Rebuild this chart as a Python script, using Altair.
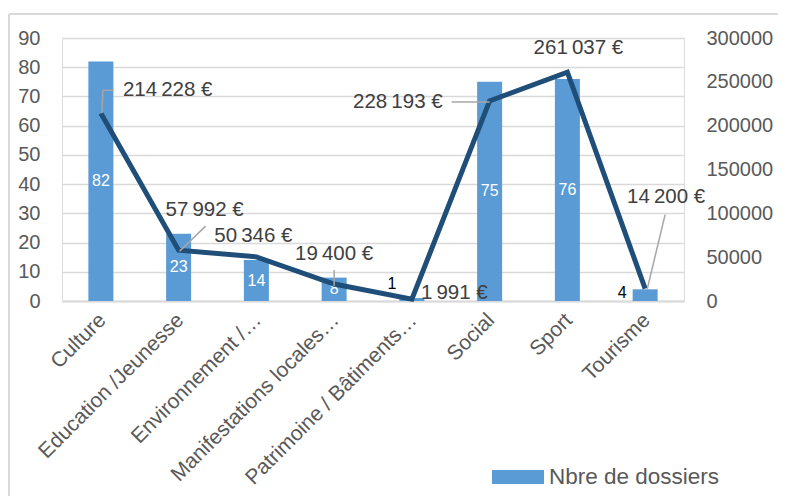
import altair as alt
import pandas as pd

categories = ["Culture", "Education /Jeunesse", "Environnement /…", "Manifestations locales…",
              "Patrimoine / Bâtiments…", "Social", "Sport", "Tourisme"]
dossiers = [82, 23, 14, 8, 1, 75, 76, 4]
montants = [214228, 57992, 50346, 19400, 1991, 228193, 261037, 14200]
series_name = "Nbre de dossiers"

df = pd.DataFrame({"cat": categories, "n": dossiers, "m": montants})
df["label_m"] = [f"{v:,}".replace(",", "\u202f") + "\u00a0€" for v in montants]
df["series"] = series_name

GRAY = "#595959"
DARK = "#404040"
BAR = "#5B9BD5"
LINE = "#1F4E79"
LEAD = "#a6a6a6"
GRID = "#d9d9d9"

x_axis = alt.Axis(title=None, labelAngle=-45, labelFontSize=21, labelColor=GRAY,
                  domain=True, domainColor=GRID, domainWidth=2, ticks=False,
                  labelPadding=8, labelOffset=-6, labelLimit=400, grid=False)
x = alt.X("cat:N", sort=categories, scale=alt.Scale(paddingInner=0, paddingOuter=0), axis=x_axis)
yl_scale = alt.Scale(domain=[0, 90])
yr_scale = alt.Scale(domain=[0, 300000])
yl_axis = alt.Axis(title=None, values=list(range(0, 91, 10)), grid=True,
                   gridColor=GRID, gridWidth=1.5, domain=False, ticks=False,
                   labelFontSize=20, labelColor=GRAY, labelPadding=22, orient="left")
yr_axis = alt.Axis(title=None, orient="right", values=list(range(0, 300001, 50000)),
                   format="d", grid=False, domain=False, ticks=False,
                   labelFontSize=20, labelColor=GRAY, labelPadding=22)

base = alt.Chart(df)

bars = base.mark_bar(width=25).encode(
    x=x,
    y=alt.Y("n:Q", scale=yl_scale, axis=yl_axis),
    color=alt.Color("series:N", scale=alt.Scale(range=[BAR]),
                    legend=alt.Legend(title=None, orient="none", legendX=430, legendY=413,
                                      symbolType="M-1,-0.27H1V0.27H-1Z", symbolSize=2704,
                                      symbolStrokeWidth=0, labelFontSize=22.5, labelColor=GRAY,
                                      labelOffset=5, padding=0, labelLimit=400)),
)

bar_in = base.transform_filter("datum.n >= 8").transform_calculate(mid="datum.n / 2").mark_text(
    color="white", fontSize=16).encode(
    x=x, y=alt.Y("mid:Q", scale=yl_scale, axis=yl_axis), text="n:Q")

def small_label(cat, dx, dy):
    return base.transform_filter(alt.datum.cat == cat).transform_calculate(mid="datum.n / 2").mark_text(
        color="black", fontSize=16, dx=dx, dy=dy).encode(
        x=x, y=alt.Y("mid:Q", scale=yl_scale, axis=yl_axis), text="n:Q")

left = alt.layer(bars, bar_in, small_label("Patrimoine / Bâtiments…", -20, -16),
                 small_label("Tourisme", -23, -2))

line = base.mark_line(color=LINE, strokeWidth=5).encode(
    x=x, y=alt.Y("m:Q", scale=yr_scale, axis=yr_axis))

# label placement (dx, dy, align) per category
label_pos = {
    "Culture": (22, -23, "left"),
    "Education /Jeunesse": (26, -40, "center"),
    "Environnement /…": (-3, -21, "center"),
    "Manifestations locales…": (0, -30, "center"),
    "Patrimoine / Bâtiments…": (9, -6, "left"),
    "Social": (-47, 1, "right"),
    "Sport": (11, -24, "center"),
    "Tourisme": (21, -92, "center"),
}
# leader segments: (xOffset, yOffset, x2Offset, y2Offset)
leaders = {
    "Culture": [(1, 0, 2, -23), (2, -23, 13, -23)],
    "Education /Jeunesse": [(1, 1, 27, -24)],
    "Manifestations locales…": [(0, 2, 0, -14)],
    "Social": [(0, 1, -38, 1)],
    "Tourisme": [(2, 1, 20, -74)],
}

line_layers = [line]
for cat, segs in leaders.items():
    for (xo, yo, x2o, y2o) in segs:
        line_layers.append(
            base.transform_filter(alt.datum.cat == cat).mark_rule(
                color=LEAD, strokeWidth=1.5, xOffset=xo, yOffset=yo, x2Offset=x2o, y2Offset=y2o).encode(
                x=x, x2="cat:N",
                y=alt.Y("m:Q", scale=yr_scale, axis=yr_axis), y2="m:Q"))
for cat, (dx, dy, al) in label_pos.items():
    line_layers.append(
        base.transform_filter(alt.datum.cat == cat).mark_text(
            color=DARK, fontSize=20.5, dx=dx, dy=dy, align=al, baseline="middle").encode(
            x=x, y=alt.Y("m:Q", scale=yr_scale, axis=yr_axis), text="label_m:N"))

right = alt.layer(*line_layers)

frame = alt.Chart(pd.DataFrame({"a": [0]})).mark_rule(color=GRID, strokeWidth=2)
frame_top = frame.encode(x=alt.value(-53), x2=alt.value(730), y=alt.value(-24))
frame_left = frame.encode(x=alt.value(-53), y=alt.value(-24), y2=alt.value(460))

chart = alt.layer(left, right, frame_top, frame_left).resolve_scale(
    y="independent", color="independent"
).properties(
    width=622, height=263,
    padding={"left": 54, "top": 30, "right": 94, "bottom": 195},
    autosize=alt.AutoSizeParams(type="none"),
).configure_view(stroke="transparent", strokeWidth=0).configure_axis(
    domain=False
).configure_axisY(domain=False, ticks=False).configure(font="Liberation Sans")

chart.save("out.html", embed_options={"renderer": "svg", "actions": False})
